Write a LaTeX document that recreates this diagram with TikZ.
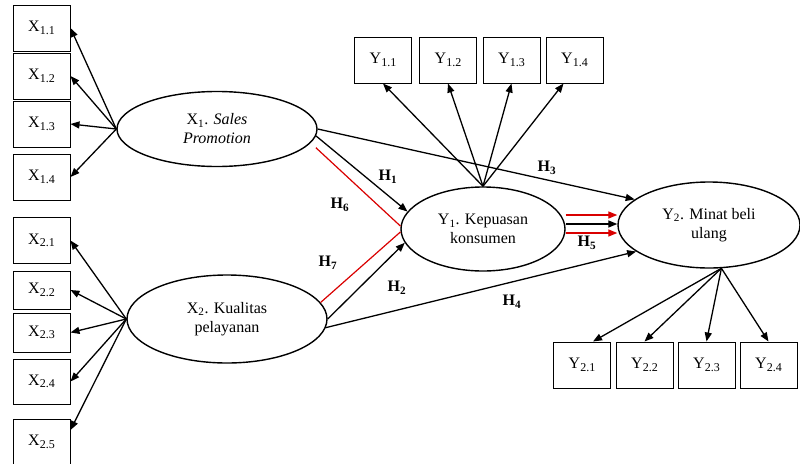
\documentclass[tikz,border=0pt]{standalone}
\usepackage{fontspec}
\setmainfont{Liberation Serif}
\usetikzlibrary{shapes.geometric,arrows.meta}

\newcommand{\mvar}[2]{#1\raisebox{-0.35ex}{\fontsize{12}{12}\selectfont #2}}

\begin{document}
\begin{tikzpicture}[x=1pt, y=-1pt,
    ind/.style={draw, line width=1pt, minimum width=57pt, minimum height=46pt,
        inner sep=0pt, font=\fontsize{16}{18}\selectfont},
    lat/.style={draw, ellipse, line width=1.4pt, inner sep=0pt, align=center,
        font=\fontsize{16}{19}\selectfont},
    arr/.style={line width=1.3pt, -{Triangle[length=9pt,width=7pt]}},
    redline/.style={draw=red!85!black, line width=1.2pt},
    hyp/.style={font=\bfseries\fontsize{16}{20}\selectfont, inner sep=1pt}]

    \clip (0,0) rectangle (800,463);

    % Nodes
    \node[ind] (x11) at (41.5,28) {\mvar{X}{1.1}};
    \node[ind] (x12) at (41.5,76) {\mvar{X}{1.2}};
    \node[ind] (x13) at (41.5,124) {\mvar{X}{1.3}};
    \node[ind] (x14) at (41.5,177) {\mvar{X}{1.4}};

    \node[ind] (x21) at (41.5,240.5) {\mvar{X}{2.1}};
    \node[ind, minimum height=38pt] (x22) at (41.5,290) {\mvar{X}{2.2}};
    \node[ind, minimum height=39pt] (x23) at (41.5,332.5) {\mvar{X}{2.3}};
    \node[ind, minimum height=45pt] (x24) at (41.5,381.5) {\mvar{X}{2.4}};
    \node[ind] (x25) at (41.5,442) {\mvar{X}{2.5}};

    \node[ind] (y11) at (383,60) {\mvar{Y}{1.1}};
    \node[ind] (y12) at (448,60) {\mvar{Y}{1.2}};
    \node[ind] (y13) at (511.5,60) {\mvar{Y}{1.3}};
    \node[ind] (y14) at (574.5,60) {\mvar{Y}{1.4}};

    \node[ind] (y21) at (582,365) {\mvar{Y}{2.1}};
    \node[ind] (y22) at (644.5,365) {\mvar{Y}{2.2}};
    \node[ind] (y23) at (706.5,365) {\mvar{Y}{2.3}};
    \node[ind] (y24) at (768.5,365) {\mvar{Y}{2.4}};

    \node[lat, minimum width=200pt, minimum height=75pt] (x1) at (217,129)
        {X\textsubscript{1}. \textit{Sales}\\\textit{Promotion}};
    \node[lat, minimum width=200pt, minimum height=88pt] (x2) at (227,319)
        {X\textsubscript{2}. Kualitas\\pelayanan};
    \node[lat, minimum width=164pt, minimum height=84pt] (y1) at (483,229)
        {Y\textsubscript{1}. Kepuasan\\konsumen};
    \node[lat, minimum width=182pt, minimum height=86pt] (y2) at (709,225)
        {Y\textsubscript{2}. Minat beli\\ulang};

    % Labels
    \node[hyp] (h1) at (388,177) {H\textsubscript{1}};
    \node[hyp] (h2) at (397,288) {H\textsubscript{2}};
    \node[hyp] (h3) at (547,168) {H\textsubscript{3}};
    \node[hyp] (h4) at (512,302) {H\textsubscript{4}};
    \node[hyp] (h5) at (587,243) {H\textsubscript{5}};
    \node[hyp] (h6) at (340,205) {H\textsubscript{6}};
    \node[hyp] (h7) at (328,263) {H\textsubscript{7}};

    % Lines
    \foreach \b in {x11,x12,x13,x14}
        \draw[arr] (x1.west) -- (\b.east);
    \foreach \b in {x21,x22,x23,x24}
        \draw[arr] (x2.west) -- (\b.east);
    \draw[arr] (x2.west) -- ([yshift=12pt]x25.east);
    \foreach \b in {y11,y12,y13}
        \draw[arr] (y1.north) -- (\b.south);
    \draw[arr] (y1.north) -- ([xshift=-11pt]y14.south);
    \draw[arr] (y2.-74) -- ([xshift=11pt]y21.north);
    \foreach \b in {y22,y23,y24}
        \draw[arr] (y2.-74) -- (\b.north);

    \draw[arr] (x1.east) -- (y2.161);
    \draw[arr] (x1.-4) -- (y1.167);
    \draw[redline] ([xshift=11pt]x1.-12) -- (y1.178);
    \draw[redline] (x2.10) -- (y1.182);
    \draw[arr] (x2.east) -- (y1.190);
    \draw[arr] (x2.-5) -- (y2.200);

    \draw[arr, red!85!black] ([yshift=14pt]y1.east) -- ([yshift=14pt]y1.east -| y2.west);
    \draw[arr] ([yshift=5pt]y1.east) -- ([yshift=5pt]y1.east -| y2.west);
    \draw[arr, red!85!black] ([yshift=-4pt]y1.east) -- ([yshift=-4pt]y1.east -| y2.west);

\end{tikzpicture}
\end{document}
